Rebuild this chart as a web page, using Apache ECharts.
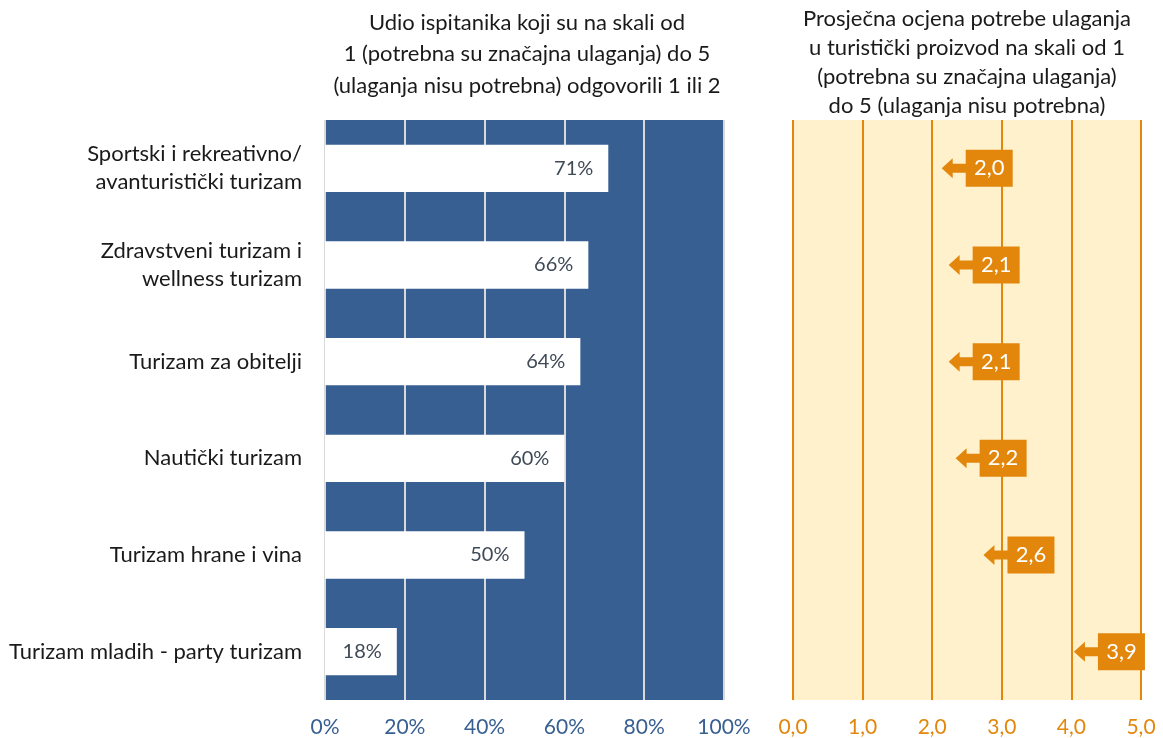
<!DOCTYPE html>
<html>
<head>
<meta charset="utf-8">
<script src="https://cdn.jsdelivr.net/npm/echarts@6/dist/echarts.min.js"></script>
<style>
  html, body { margin: 0; padding: 0; background: #fff; }
  #chart { width: 1163px; height: 738px; }
</style>
</head>
<body>
<div id="chart"></div>
<script>
// kategorije turističkih proizvoda
const categories = [
  'Sportski i rekreativno/\navanturistički turizam',
  'Zdravstveni turizam i\nwellness turizam',
  'Turizam za obitelji',
  'Nautički turizam',
  'Turizam hrane i vina',
  'Turizam mladih - party turizam'
];
// udio odgovora 1 ili 2 (%)
const shareValues = [71, 66, 64, 60, 50, 18];
// prosječna ocjena (1-5)
const meanScores = [2.0, 2.1, 2.1, 2.2, 2.6, 3.9];

const leftTitle = 'Udio ispitanika koji su na skali od\n1 (potrebna su značajna ulaganja) do 5\n(ulaganja nisu potrebna) odgovorili 1 ili 2';
const rightTitle = 'Prosječna ocjena potrebe ulaganja\nu turistički proizvod na skali od 1\n(potrebna su značajna ulaganja)\ndo 5 (ulaganja nisu potrebna)';

const FONT = 'Lato, "Open Sans", sans-serif';
const BLUE = '#375F91';
const ORANGE = '#E2870B';
const YELLOW = '#FFF1CC';

const comma = v => v.toFixed(1).replace('.', ',');

const chart = echarts.init(document.getElementById('chart'));

const option = {
  animation: false,
  textStyle: { fontFamily: FONT },
  graphic: [
    {
      type: 'text', x: 527, y: 7,
      style: { text: leftTitle, textAlign: 'center', font: '22px ' + FONT, lineHeight: 31.5, fill: '#1a1a1a' }
    },
    {
      type: 'text', x: 967, y: 4,
      style: { text: rightTitle, textAlign: 'center', font: '22px ' + FONT, lineHeight: 29, fill: '#1a1a1a' }
    }
  ],
  grid: [
    { left: 325, right: 439, top: 120, bottom: 38, show: true, backgroundColor: BLUE, borderWidth: 0 },
    { left: 793, right: 22, top: 120, bottom: 38, show: true, backgroundColor: YELLOW, borderWidth: 0 }
  ],
  xAxis: [
    {
      gridIndex: 0, type: 'value', min: 0, max: 100, interval: 20,
      axisLine: { show: false }, axisTick: { show: false },
      splitLine: { show: true, lineStyle: { color: '#D9D9D9', width: 2 } },
      axisLabel: { formatter: '{value}%', color: BLUE, fontSize: 21, margin: 17 }
    },
    {
      gridIndex: 1, type: 'value', min: 0, max: 5, interval: 1,
      axisLine: { show: false }, axisTick: { show: false },
      splitLine: { show: true, lineStyle: { color: ORANGE, width: 2 } },
      axisLabel: { formatter: v => comma(v), color: ORANGE, fontSize: 21, margin: 17 }
    }
  ],
  yAxis: [
    {
      gridIndex: 0, type: 'category', data: categories, inverse: true,
      axisLine: { show: false }, axisTick: { show: false },
      axisLabel: { color: '#1a1a1a', fontSize: 22, lineHeight: 28, margin: 23, align: 'right' }
    },
    {
      gridIndex: 1, type: 'category', data: categories, inverse: true,
      axisLine: { show: false }, axisTick: { show: false }, axisLabel: { show: false }
    }
  ],
  series: [
    {
      type: 'bar', xAxisIndex: 0, yAxisIndex: 0,
      data: shareValues, barWidth: '49%',
      itemStyle: { color: '#FFFFFF' },
      label: {
        show: true, position: 'insideRight', distance: 15,
        formatter: '{c}%', color: '#3F4A57', fontSize: 20
      }
    },
    {
      type: 'scatter', xAxisIndex: 1, yAxisIndex: 1,
      data: meanScores,
      symbol: 'path://M0,18.5L11,8.5L11,14L24,14L24,0L71,0L71,37L24,37L24,23L11,23L11,28.5Z',
      symbolSize: [71, 37],
      symbolOffset: [45, 0],
      itemStyle: { color: ORANGE, opacity: 1 },
      label: {
        show: true, position: 'inside', offset: [12, 0],
        formatter: p => comma(p.value), color: '#FFFFFF', fontSize: 22
      },
      z: 5
    }
  ]
};

chart.setOption(option);
</script>
</body>
</html>
